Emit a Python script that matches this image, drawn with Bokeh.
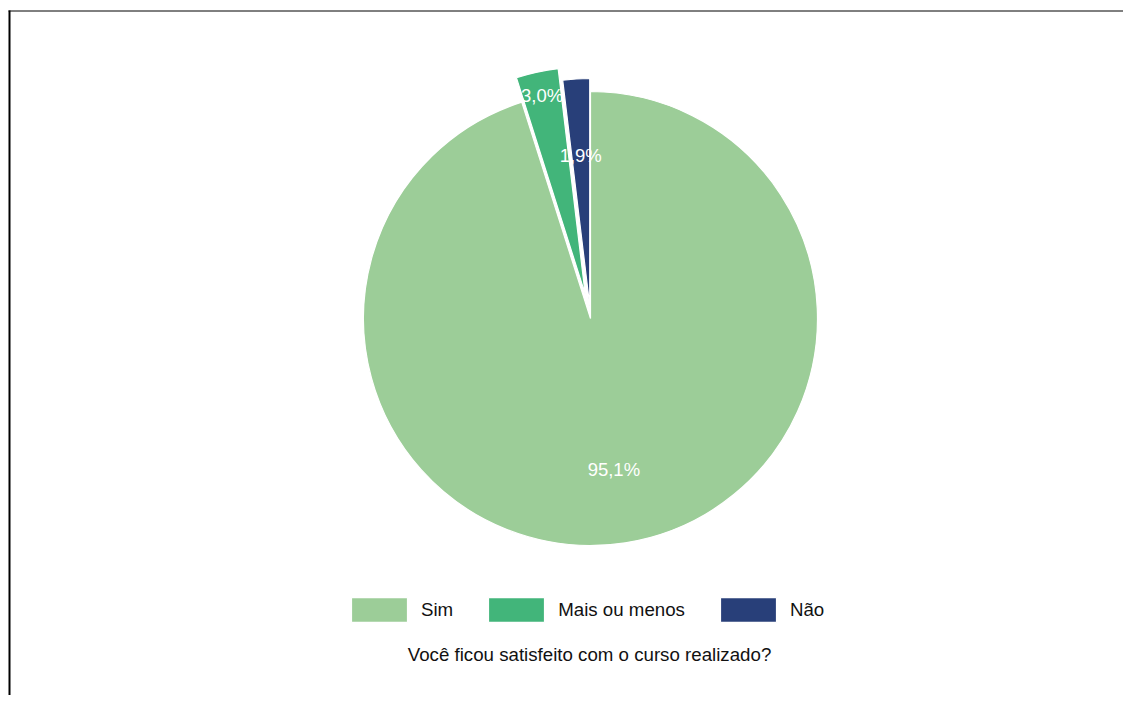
import math
from bokeh.plotting import figure
from bokeh.models import ColumnDataSource, Range1d, Legend, LegendItem, Label
from bokeh.embed import file_html
from bokeh.resources import INLINE
from bokeh.core.properties import value

# ---- data ----
categories = ["Sim", "Mais ou menos", "Não"]
percent = [95.1, 3.0, 1.9]
colors = ["#9CCD98", "#42B57A", "#283F79"]
title_text = "Você ficou satisfeito com o curso realizado?"

# ---- style ----
W, H = 1123, 695
CX, CY, R = 590, 377, 227          # pie centre / radius in px-mapped units
explode = [0, 25, 13]              # pull-out of each slice
label_r = [0.671, 0.895, 0.664]    # label distance (fraction of radius)
FONT = "Liberation Sans"
FRAME_L, FRAME_T = 9, H - 10.5     # decorative frame lines

# slices go clockwise from 12 o'clock -> compute anticlockwise angles
total = sum(percent)
starts, ends = [0.0] * 3, [0.0] * 3
acc = math.pi / 2
for i in reversed(range(len(percent))):
    a = percent[i] / total * 2 * math.pi
    starts[i] = acc
    ends[i] = acc + a
    acc += a

xs, ys, lx, ly, texts = [], [], [], [], []
for i in range(len(percent)):
    mid = (starts[i] + ends[i]) / 2
    cx = CX + explode[i] * math.cos(mid)
    cy = CY + explode[i] * math.sin(mid)
    xs.append(cx)
    ys.append(cy)
    lx.append(cx + label_r[i] * R * math.cos(mid))
    ly.append(cy + label_r[i] * R * math.sin(mid))
    texts.append(f"{percent[i]:.1f}".replace(".", ",") + "%")

src = ColumnDataSource(dict(x=xs, y=ys, start=starts, end=ends, color=colors,
                            cat=categories, lx=lx, ly=ly, txt=texts))

p = figure(width=W, height=H, x_range=Range1d(0, W), y_range=Range1d(0, H),
           output_backend="svg", toolbar_location=None, min_border=0)
p.axis.visible = False
p.grid.visible = False
p.outline_line_color = None
p.background_fill_color = "white"

# decorative frame (top + left)
p.segment(x0=[FRAME_L - 1], y0=[FRAME_T], x1=[W], y1=[FRAME_T],
          line_color="black", line_width=1, line_cap="butt")
p.segment(x0=[FRAME_L], y0=[0], x1=[FRAME_L], y1=[FRAME_T + 0.5],
          line_color="black", line_width=2, line_cap="butt")

wr = p.wedge(x="x", y="y", radius=R, start_angle="start", end_angle="end",
             fill_color="color", line_color="white", line_width=1.2, source=src)

p.text(x="lx", y="ly", text="txt", source=src, text_color="white",
       text_font=value(FONT), text_font_size="18.5px", text_align="center",
       text_baseline="middle")

legend = Legend(items=[LegendItem(label=categories[i], renderers=[wr], index=i)
                       for i in range(len(categories))],
                orientation="horizontal", location=(344, 70),
                glyph_width=70, glyph_height=31, label_standoff=7, spacing=28,
                padding=0, margin=0, border_line_color=None,
                background_fill_alpha=0, label_text_font=FONT,
                label_text_font_size="18.7px", label_text_color="#111111")
p.add_layout(legend)

p.add_layout(Label(x=589, y=41, x_units="screen", y_units="screen", text=title_text,
                   text_align="center", text_baseline="middle", text_font=FONT,
                   text_font_size="18.7px", text_color="#111111"))

open("out.html", "w").write(file_html(p, INLINE))
